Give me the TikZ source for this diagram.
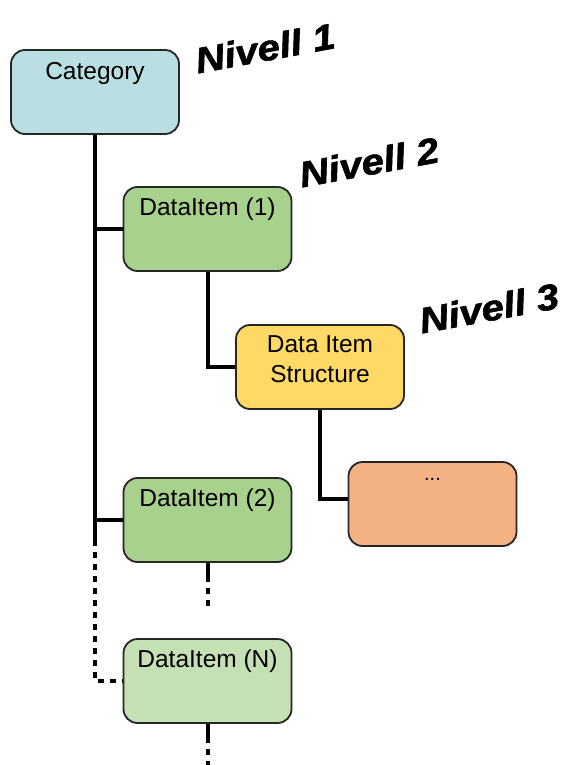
\documentclass[tikz,border=0pt]{standalone}
\usepackage{fontspec}
\setmainfont{Liberation Sans}
\newfontfamily\levelfont[BoldItalicFeatures={FakeBold=1.6}]{Liberation Sans}
\usetikzlibrary{calc}

\definecolor{catfill}{HTML}{B9DFE3}
\definecolor{itemfill}{HTML}{A9D18E}
\definecolor{itemlight}{HTML}{C5E0B4}
\definecolor{structfill}{HTML}{FFD966}
\definecolor{subfill}{HTML}{F4B183}

\tikzset{
  box/.style={draw=black!85, line width=1.8pt, rounded corners=14pt,
    minimum width=168pt, minimum height=84pt, inner sep=0pt},
  boxtext/.style={font=\fontsize{24.5}{30}\selectfont, align=center,
    anchor=north, inner sep=0pt, yshift=-11pt},
  conn/.style={line width=4pt, black},
  dotconn/.style={line width=4pt, black, dash pattern=on 6pt off 6pt},
  stubconn/.style={line width=4pt, black,
    dash pattern=on 19pt off 6pt on 6pt off 6pt on 6pt off 40pt},
  level/.style={font=\levelfont\fontsize{36}{36}\selectfont\bfseries\itshape,
    inner sep=0pt, rotate=10.5, xscale=1.12}
}

\begin{document}
\begin{tikzpicture}[x=1pt, y=-1pt]
  \useasboundingbox (0,0) rectangle (561,765);

  % boxes of the hierarchy
  \node[box, fill=catfill]    (cat) at (95,92)    {};
  \node[box, fill=itemfill]   (di1) at (207.5,229) {};
  \node[box, fill=structfill] (dis) at (320,367)  {};
  \node[box, fill=subfill]    (sub) at (432.5,504) {};
  \node[box, fill=itemfill]   (di2) at (207.5,520) {};
  \node[box, fill=itemlight]  (din) at (207.5,681) {};

  % box captions
  \node[boxtext, yshift=-2pt] (catt) at (cat.north) {Category};
  \node[boxtext] (di1t) at (di1.north) {DataItem (1)};
  \node[boxtext] (dist) at (dis.north) {Data Item\\Structure};
  \node[boxtext, font=\fontsize{20}{20}\selectfont, yshift=-6pt] (subt) at (sub.north) {...};
  \node[boxtext] (di2t) at (di2.north) {DataItem (2)};
  \node[boxtext] (dint) at (din.north) {DataItem (N)};

  % level labels
  \node[level] (lv1) at (265,48)  {Nivell 1};
  \node[level] (lv2) at (369,162) {Nivell 2};
  \node[level] (lv3) at (489,308) {Nivell 3};

  % connectors
  \coordinate (split) at ($(cat.south |- di2.west)+(0,20)$);
  \coordinate (di2end) at ($(di2.south)+(0,43)$);
  \coordinate (dinend) at ($(din.south)+(0,44)$);

  \draw[conn] (cat.south) -- (split);
  \draw[conn] (cat.south |- di1.west) -- (di1.west);
  \draw[conn] (cat.south |- di2.west) -- (di2.west);
  \draw[dotconn] (split) |- (din.west);
  \draw[conn] (di1.south) |- (dis.west);
  \draw[conn] (dis.south) |- ($(sub.west)+(0,-5)$);
  \draw[stubconn] (di2.south) -- (di2end);
  \draw[stubconn] (din.south) -- (dinend);
\end{tikzpicture}
\end{document}
